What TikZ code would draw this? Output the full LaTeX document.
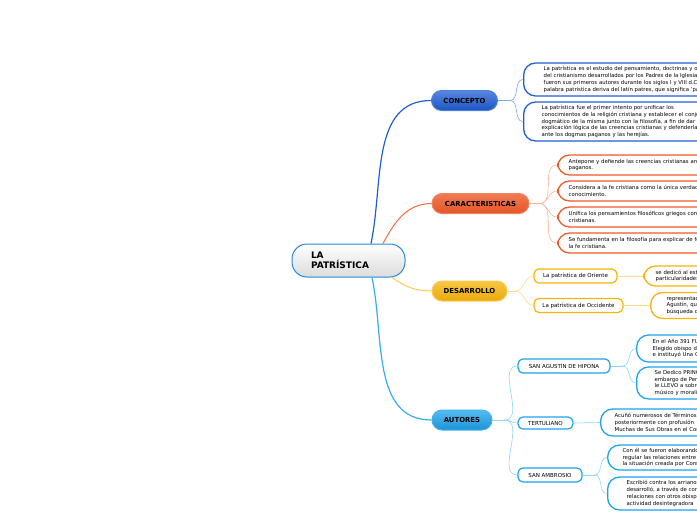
\documentclass[tikz,border=0pt]{standalone}
\usepackage{fontspec}
\setmainfont{DejaVu Sans}

\definecolor{conblue}{HTML}{1F5FD6}
\definecolor{conpale}{HTML}{7AA6EE}
\definecolor{carred}{HTML}{EE5A28}
\definecolor{carpale}{HTML}{F8B49A}
\definecolor{desgold}{HTML}{F6B40A}
\definecolor{despale}{HTML}{FFDC8C}
\definecolor{autblue}{HTML}{1EA4EC}
\definecolor{autpale}{HTML}{90D4F8}

\tikzset{
  topic/.style={draw, line width=1pt, rounded corners=10pt, minimum height=20pt, inner sep=0pt,
    font=\fontsize{6.9}{8}\selectfont\bfseries},
  sub/.style={draw, line width=1.2pt, rounded corners=5pt, fill=white, inner sep=0pt,
    minimum height=14pt, font=\fontsize{5.5}{6}\selectfont},
  leaf/.style={anchor=west, draw, line width=1.3pt, rounded corners=12pt, fill=white, align=left,
    text width=230pt, inner ysep=0pt, font=\fontsize{5.35}{6.8}\selectfont},
  link/.style={line width=0.6pt},
}

\begin{document}
\begin{tikzpicture}[x=1pt, y=1pt]

    \useasboundingbox (0,0) rectangle (697,-520);
    \clip (0,0) rectangle (697,-520);

    % centre
    \node [draw=blue!45!cyan!70!gray, line width=1pt, rounded corners=15pt, top color=white, bottom color=black!14,
      minimum width=113pt, minimum height=33pt, text width=75pt, align=left, inner sep=0pt,
      font=\fontsize{9}{10}\selectfont\bfseries] (root) at (348.5,-260.5) {LA\\PATRÍSTICA};

    % main branches
    \node [topic, draw=conblue!80!white, top color=conblue!75!white, bottom color=conblue!90!black,
      minimum width=66pt] (concepto) at (464.5,-100.5) {CONCEPTO};
    \node [topic, draw=carred!75!white, top color=carred!80!white, bottom color=carred!95!black,
      minimum width=97pt] (caract) at (480.5,-203.5) {CARACTERISTICAS};
    \node [topic, draw=desgold!70!white, top color=desgold!75!white, bottom color=desgold!95!black,
      minimum width=75pt] (desarrollo) at (469.5,-291) {DESARROLLO};
    \node [topic, draw=autblue!85!white, top color=autblue!75!white, bottom color=autblue!90!black,
      minimum width=60pt] (autores) at (462,-420) {AUTORES};

    \draw [conblue, line width=1.2pt] ([xshift=22.5pt]root.north) to[out=78, in=180] (concepto.west);
    \draw [carred!90!white, line width=1pt] ([xshift=34.5pt]root.north) to[out=62, in=180] (caract.west);
    \draw [desgold!70!white, line width=1pt] ([xshift=43.5pt]root.south) to[out=-35, in=180] (desarrollo.west);
    \draw [autblue!90!white, line width=1.2pt] ([xshift=23.5pt]root.south) to[out=-78, in=180] (autores.west);

    % CONCEPTO
    \node [leaf, draw=conblue, inner xsep=20pt, minimum height=33pt] (con1) at (523,-79.5)
      {La patrística es el estudio del pensamiento, doctrinas y obras\\
       del cristianismo desarrollados por los Padres de la Iglesia, quienes\\
       fueron sus primeros autores durante los siglos I y VIII d.C. La\\
       palabra patrística deriva del latín patres, que significa 'padres'.};
    \node [leaf, draw=conblue, inner xsep=18pt, minimum height=39pt] (con2) at (523,-121.5)
      {La patrística fue el primer intento por unificar los\\
       conocimientos de la religión cristiana y establecer el conjunto\\
       dogmático de la misma junto con la filosofía, a fin de dar una\\
       explicación lógica de las creencias cristianas y defenderlas\\
       ante los dogmas paganos y las herejías.};
    \coordinate (conf) at ([xshift=12pt]concepto.east);
    \draw [link, conpale] (concepto.east) -- (conf);
    \foreach \n in {con1, con2}
      \draw [link, conpale] (conf) to[out=0, in=180] (\n.west);

    % CARACTERISTICAS
    \node [leaf, draw=carred, inner xsep=11pt, minimum height=20pt] (car1) at (557,-165)
      {Antepone y defiende las creencias cristianas ante los\\ paganos.};
    \node [leaf, draw=carred, inner xsep=11pt, minimum height=20pt] (car2) at (557,-191)
      {Considera a la fe cristiana como la única verdad y fuente de\\ conocimiento.};
    \node [leaf, draw=carred, inner xsep=11pt, minimum height=20pt] (car3) at (557,-217)
      {Unifica los pensamientos filosóficos griegos con las creencias\\ cristianas.};
    \node [leaf, draw=carred, inner xsep=11pt, minimum height=20pt] (car4) at (557,-243)
      {Se fundamenta en la filosofía para explicar de forma lógica\\ la fe cristiana.};
    \coordinate (carf) at ([xshift=10pt]caract.east);
    \draw [link, carpale] (caract.east) -- (carf);
    \foreach \n in {car1, car2, car3, car4}
      \draw [link, carpale] (carf) to[out=0, in=180] (\n.west);

    % DESARROLLO
    \node [sub, draw=desgold, minimum width=83pt] (oriente) at (575.5,-276) {La patrística de Oriente};
    \node [sub, draw=desgold, minimum width=89pt] (occidente) at (578.5,-305.5) {La patrística de Occidente};
    \coordinate (desf) at ([xshift=8pt]desarrollo.east);
    \draw [link, despale] (desarrollo.east) -- (desf);
    \foreach \n in {oriente, occidente}
      \draw [link, despale] (desf) to[out=0, in=180] (\n.west);
    \node [leaf, draw=desgold, inner xsep=12pt, minimum height=20pt] (ori1) at (643,-276)
      {se dedicó al estudio de la teología y sus\\ particularidades};
    \node [leaf, draw=desgold, inner xsep=16pt, minimum height=26pt] (occ1) at (650,-305.5)
      {representada por San\\ Agustín, que buscó la\\ búsqueda de la verdad};
    \draw [link, despale] (oriente.east) -- (ori1.west);
    \draw [link, despale] (occidente.east) -- (occ1.west);

    % AUTORES
    \node [sub, draw=autblue, minimum width=92pt] (agustin) at (564,-366) {SAN AGUSTÍN DE HIPONA};
    \node [sub, draw=autblue, minimum width=55pt, minimum height=12pt] (tertuliano) at (545.5,-423) {TERTULIANO};
    \node [sub, draw=autblue, minimum width=64pt] (ambrosio) at (550,-475) {SAN AMBROSIO};
    \coordinate (autf) at ([xshift=12pt]autores.east);
    \draw [link, autpale] (autores.east) -- (autf);
    \foreach \n in {agustin, tertuliano, ambrosio}
      \draw [link, autpale] (autf) to[out=0, in=180] (\n.west);

    \node [leaf, draw=autblue, inner xsep=16pt, minimum height=27pt] (agu1) at (636,-348.5)
      {En el Año 391 FUE ordenado sacerdote,\\ Elegido obispo de Hipona\\ e instituyó Una Comunidad};
    \node [leaf, draw=autblue, inner xsep=18pt, minimum height=32pt] (agu2) at (636,-383)
      {Se Dedico PRINCIPALMENTE\\ embargo de Pensamiento\\ le LLEVO a sobresalir\\ músico y moralista};
    \coordinate (aguf) at ([xshift=12pt]agustin.east);
    \draw [link, autpale] (agustin.east) -- (aguf);
    \foreach \n in {agu1, agu2}
      \draw [link, autpale] (aguf) to[out=0, in=180] (\n.west);

    \node [leaf, draw=autblue, inner xsep=14pt, minimum height=27pt] (ter1) at (600,-422.5)
      {Acuñó numerosos de Términos\\ posteriormente con profusión\\ Muchas de Sus Obras en el Concilio};
    \draw [link, autpale] (tertuliano.east) -- (ter1.west);

    \node [leaf, draw=autblue, inner xsep=15pt, minimum height=25pt] (amb1) at (607,-457.5)
      {Con él se fueron elaborando\\ regular las relaciones entre\\ la situación creada por Constantino};
    \node [leaf, draw=autblue, inner xsep=19pt, minimum height=33pt] (amb2) at (607,-493.5)
      {Escribió contra los arrianos\\ desarrolló, a través de correspondencia\\ relaciones con otros obispos\\ actividad desintegradora};
    \coordinate (ambf) at ([xshift=12pt]ambrosio.east);
    \draw [link, autpale] (ambrosio.east) -- (ambf);
    \foreach \n in {amb1, amb2}
      \draw [link, autpale] (ambf) to[out=0, in=180] (\n.west);

\end{tikzpicture}
\end{document}
